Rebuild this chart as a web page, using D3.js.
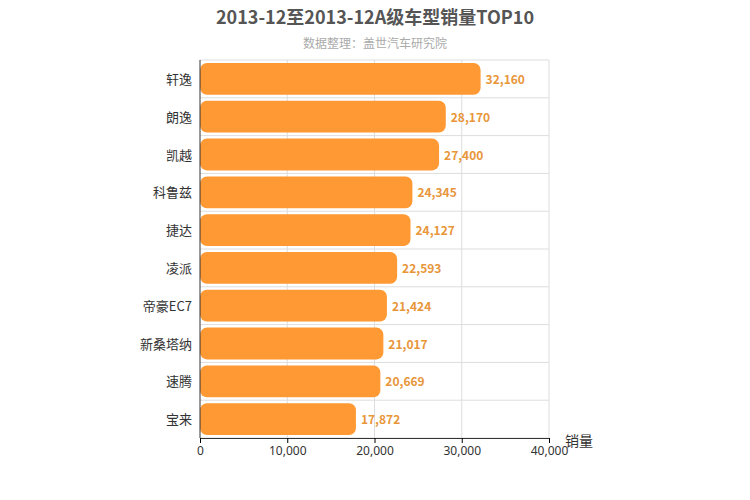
<!DOCTYPE html>
<html><head><meta charset="utf-8">
<script src="https://cdn.jsdelivr.net/npm/d3@7"></script>
<style>body{margin:0;background:#fff;font-family:"Noto Sans CJK SC","Noto Sans",sans-serif}</style>
</head><body><svg id="c" width="750" height="500"></svg>
<script>
var names = ['轩逸','朗逸','凯越','科鲁兹','捷达','凌派','帝豪EC7','新桑塔纳','速腾','宝来']
var sales = [32160, 28170, 27400, 24345, 24127, 22593, 21424, 21017, 20669, 17872]
var ticks = [0, 10000, 20000, 30000, 40000]

var svg = d3.select('#c')
var m = {left: 200, right: 549, top: 60, bottom: 438}

var x = d3.scaleLinear().domain([0, 40000]).range([m.left, m.right])
var y = d3.scaleBand().domain(names).range([m.top, m.bottom]).paddingInner(0.2).paddingOuter(0.1)
var step = y.step()

svg.append('text').attr('x', 375).attr('y', 24).attr('text-anchor', 'middle')
  .attr('font-size', 18).attr('font-weight', 'bold').attr('fill', '#555')
  .text('2013-12至2013-12A级车型销量TOP10')
svg.append('text').attr('x', 375).attr('y', 48).attr('text-anchor', 'middle')
  .attr('font-size', 12).attr('fill', '#aaa').text('数据整理：盖世汽车研究院')

// grid
svg.selectAll('line.v').data(ticks.slice(1)).join('line')
  .attr('x1', d => x(d)).attr('x2', d => x(d)).attr('y1', m.top).attr('y2', m.bottom)
  .attr('stroke', '#ddd')
svg.selectAll('line.h').data(d3.range(11)).join('line')
  .attr('x1', m.left).attr('x2', m.right)
  .attr('y1', i => m.top + i * (m.bottom - m.top) / 10).attr('y2', i => m.top + i * (m.bottom - m.top) / 10)
  .attr('stroke', '#ddd')

// bars
var band = (m.bottom - m.top) / 10
svg.selectAll('rect.bar').data(names).join('rect')
  .attr('x', x(0)).attr('y', (d, i) => m.top + i * band + 3)
  .attr('width', (d, i) => x(sales[i]) - x(0)).attr('height', band - 6)
  .attr('rx', 7).attr('fill', '#ff9933')

svg.selectAll('text.val').data(names).join('text')
  .attr('x', (d, i) => x(sales[i]) + 5).attr('y', (d, i) => m.top + (i + 0.5) * band + 5)
  .attr('font-size', 12).attr('font-weight', 'bold').attr('fill', '#e8963a')
  .text((d, i) => d3.format(',')(sales[i]))

svg.selectAll('text.cat').data(names).join('text')
  .attr('x', m.left - 8).attr('y', (d, i) => m.top + (i + 0.5) * band + 5)
  .attr('text-anchor', 'end').attr('font-size', 13).attr('fill', '#333').text(d => d)

// axes
svg.append('line').attr('x1', m.left).attr('x2', m.left).attr('y1', m.top).attr('y2', m.bottom).attr('stroke', '#333')
var xa = svg.append('g').attr('transform', 'translate(0,' + m.bottom + ')')
  .call(d3.axisBottom(x).tickValues(ticks).tickSize(5).tickFormat(d3.format(',')))
xa.select('.domain').attr('stroke', '#333')
xa.selectAll('text').attr('font-size', 12).attr('fill', '#333').attr('font-family', '"Noto Sans",sans-serif')

svg.append('text').attr('x', 565).attr('y', 446).attr('font-size', 14).attr('fill', '#333').text('销量')
</script></body></html>
